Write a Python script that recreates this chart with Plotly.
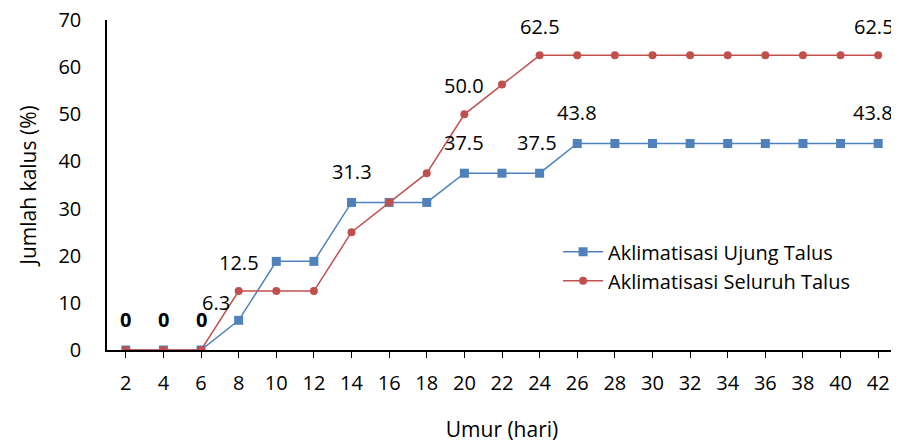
import plotly.graph_objects as go

umur = [2, 4, 6, 8, 10, 12, 14, 16, 18, 20, 22, 24, 26, 28, 30, 32, 34, 36, 38, 40, 42]
ujung = [0, 0, 0, 6.3, 18.8, 18.8, 31.3, 31.3, 31.3, 37.5, 37.5, 37.5, 43.8, 43.8, 43.8, 43.8, 43.8, 43.8, 43.8, 43.8, 43.8]
seluruh = [0, 0, 0, 12.5, 12.5, 12.5, 25.0, 31.3, 37.5, 50.0, 56.3, 62.5, 62.5, 62.5, 62.5, 62.5, 62.5, 62.5, 62.5, 62.5, 62.5]
y_ticks = [0, 10, 20, 30, 40, 50, 60, 70]

# data labels: (index, text)
label_ujung_idx = [0, 1, 2, 3, 6, 9, 11, 12, 20]
label_ujung_txt = ["<b>0</b>", "<b>0</b>", "<b>0</b>", "6.3", "31.3", "37.5", "37.5", "43.8", "43.8"]
label_seluruh_idx = [3, 9, 11, 20]
label_seluruh_txt = ["12.5", "50.0", "62.5", "62.5"]

BLUE = "#4F81BD"
RED = "#C0504D"
FONT = "Open Sans"

fig = go.Figure()
fig.add_trace(go.Scatter(x=umur, y=ujung, mode="lines+markers", name="Aklimatisasi Ujung Talus",
                         line=dict(color=BLUE, width=1.5),
                         marker=dict(symbol="square", size=9, color=BLUE)))
fig.add_trace(go.Scatter(x=umur, y=seluruh, mode="lines+markers", name="Aklimatisasi Seluruh Talus",
                         line=dict(color=RED, width=1.5),
                         marker=dict(symbol="circle", size=8, color=RED)))

ann = []
for i, t in zip(label_ujung_idx, label_ujung_txt):
    xs, ys = 0, 31
    if i == 3:
        xs, ys = -23, 18
    if i == 11:
        xs = -3
    if i == 20:
        xs = -5
    ann.append(dict(x=umur[i], y=ujung[i], text=t, showarrow=False, xshift=xs, yshift=ys,
                    font=dict(family=FONT, size=20, color="#000000")))
for i, t in zip(label_seluruh_idx, label_seluruh_txt):
    xs = -4 if i == 20 else 0
    ann.append(dict(x=umur[i], y=seluruh[i], text=t, showarrow=False, xshift=xs, yshift=29,
                    font=dict(family=FONT, size=20, color="#000000")))

fig.update_layout(
    width=891, height=440,
    margin=dict(l=99, r=2, t=12, b=98),
    paper_bgcolor="white", plot_bgcolor="white",
    font=dict(family=FONT, size=20, color="#000000"),
    annotations=ann,
    legend=dict(x=0.571, y=0.357, xanchor="left", yanchor="top",
                bgcolor="rgba(0,0,0,0)", font=dict(family=FONT, size=20),
                itemwidth=40, tracegroupgap=0),
    xaxis=dict(range=[1, 43], tickvals=umur, ticktext=[str(v) for v in umur],
               automargin=False,
               showgrid=False, zeroline=False, showline=True, linecolor="#000000", linewidth=1.5,
               ticks="outside", ticklen=6, tickcolor="#000000", tickwidth=1,
               ticklabelstandoff=8,
               title=dict(text="Umur (hari)", standoff=28, font=dict(family=FONT, size=21))),
    yaxis=dict(range=[0, 70], tickvals=y_ticks, ticktext=[str(v) for v in y_ticks],
               automargin=False,
               showgrid=False, zeroline=False, ticklabeloverflow="allow",
               showline=True, linecolor="#000000", linewidth=1.5, ticks="",
               ticklabelstandoff=20,
               title=dict(text="Jumlah kalus (%)", standoff=16, font=dict(family=FONT, size=21))),
)

fig.write_html("out.html")
